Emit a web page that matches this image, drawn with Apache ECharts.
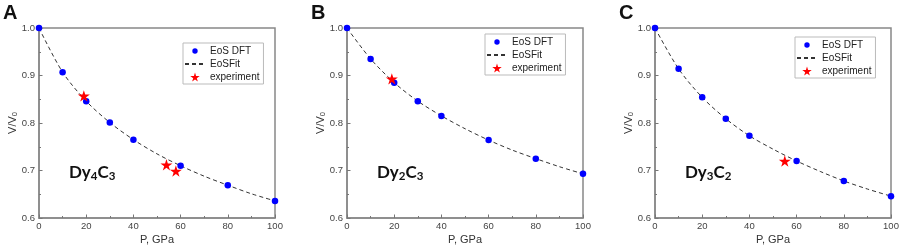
<!DOCTYPE html>
<html>
<head>
<meta charset="utf-8">
<script src="https://cdn.jsdelivr.net/npm/echarts@6/dist/echarts.min.js"></script>
<style>
  html, body { margin: 0; padding: 0; background: #fff; }
  #chart { width: 899px; height: 247px; }
</style>
</head>
<body>
<div id="chart"></div>
<script>
// DFT equation-of-state points (pressure in GPa, V/V0)
var dftP = [0, 10, 20, 30, 40, 60, 80, 100]
var dftA = [1.0, 0.907, 0.846, 0.801, 0.765, 0.710, 0.669, 0.636]
var dftB = [1.0, 0.935, 0.885, 0.846, 0.815, 0.764, 0.725, 0.693]
var dftC = [1.0, 0.914, 0.854, 0.809, 0.773, 0.720, 0.678, 0.646]

// EoSFit curve
var fitP = [0, 10, 20, 30, 40, 50, 60, 70, 80, 90, 100]
var fitA = [1.0, 0.907, 0.846, 0.801, 0.765, 0.735, 0.710, 0.688, 0.669, 0.651, 0.636]
var fitB = [1.0, 0.935, 0.885, 0.846, 0.815, 0.788, 0.764, 0.743, 0.725, 0.708, 0.693]
var fitC = [1.0, 0.914, 0.854, 0.809, 0.773, 0.745, 0.720, 0.698, 0.678, 0.661, 0.646]

// experiment
var expPA = [19, 54, 58]
var expVA = [0.857, 0.712, 0.699]
var expPB = [19]
var expVB = [0.893]
var expPC = [55]
var expVC = [0.720]

var xTicks = [0, 20, 40, 60, 80, 100]
var yTicks = [0.6, 0.7, 0.8, 0.9, 1.0]
var panelLetters = ['A', 'B', 'C']
var formulas = [['4', '3'], ['2', '3'], ['3', '2']]

var FONT = '"Liberation Sans", Arial, sans-serif'
var STAR = 'path://M50,0 L61,35 L98,35 L68,57 L79,91 L50,70 L21,91 L32,57 L2,35 L39,35 Z'
// small dot inside a 10x10 box, so the legend draws it smaller than the star
var SMALL_DOT = 'path://M0,0L0,0M10,10L10,10M8,5A3,3,0,1,1,2,5A3,3,0,1,1,8,5Z'

function pairs (xs, ys) {
  return xs.map(function (x, i) { return [x, ys[i]] })
}

var panels = [
  { left: 39, dft: dftA, fit: fitA, expP: expPA, expV: expVA, legend: [183, 43] },
  { left: 347, dft: dftB, fit: fitB, expP: expPB, expV: expVB, legend: [485, 34] },
  { left: 655, dft: dftC, fit: fitC, expP: expPC, expV: expVC, legend: [795, 37] }
]

var grids = [], xAxes = [], yAxes = [], series = [], legends = [], graphics = []

panels.forEach(function (p, i) {
  grids.push({
    left: p.left, top: 28, width: 236, height: 190, outerBoundsMode: 'none',
    show: true, borderColor: '#888', borderWidth: 1.5, backgroundColor: 'transparent'
  })
  xAxes.push({
    gridIndex: i, type: 'value', min: xTicks[0], max: xTicks[xTicks.length - 1], interval: 20,
    name: 'P, GPa', nameLocation: 'middle', nameGap: 16, nameMoveOverlap: false,
    nameTextStyle: { fontFamily: FONT, fontSize: 11, color: '#333' },
    axisLine: { lineStyle: { color: '#888', width: 1.5 } },
    axisTick: { inside: true, length: 3.5, lineStyle: { color: '#777' } },
    minorTick: { show: true, splitNumber: 2, length: 2, lineStyle: { color: '#777' } },
    axisLabel: { fontFamily: FONT, fontSize: 9.5, color: '#444', margin: 3 },
    splitLine: { show: false }
  })
  yAxes.push({
    gridIndex: i, type: 'value', min: yTicks[0], max: yTicks[yTicks.length - 1], interval: 0.1,
    name: '{a|V/V}{s|0}', nameLocation: 'middle', nameGap: 20, nameRotate: 90, nameMoveOverlap: false,
    nameTextStyle: {
      fontFamily: FONT, color: '#333',
      rich: {
        a: { fontFamily: FONT, fontSize: 11, color: '#333' },
        s: { fontFamily: FONT, fontSize: 7.5, color: '#333', verticalAlign: 'bottom', padding: [4, 0, 0, 0] }
      }
    },
    axisLine: { lineStyle: { color: '#888', width: 1.5 } },
    axisTick: { inside: true, length: 3.5, lineStyle: { color: '#777' } },
    minorTick: { show: true, splitNumber: 2, length: 2, lineStyle: { color: '#777' } },
    axisLabel: {
      fontFamily: FONT, fontSize: 9.5, color: '#444', margin: 4,
      formatter: function (v) { return v.toFixed(1) }
    },
    splitLine: { show: false }
  })

  series.push({
    name: 'EoSFit', type: 'line', xAxisIndex: i, yAxisIndex: i,
    data: pairs(fitP, p.fit), smooth: 0.3,
    symbol: 'none', showSymbol: false, z: 1,
    lineStyle: { color: '#333', width: 1, type: [4, 3] },
    itemStyle: { color: '#333' }
  })
  series.push({
    name: 'EoS DFT', type: 'scatter', xAxisIndex: i, yAxisIndex: i,
    data: pairs(dftP, p.dft), symbol: 'circle', symbolSize: 6.5, z: 2,
    itemStyle: { color: '#0000ff', opacity: 1 }
  })
  series.push({
    name: 'experiment', type: 'scatter', xAxisIndex: i, yAxisIndex: i,
    data: pairs(p.expP, p.expV), symbol: STAR, symbolSize: 12, symbolKeepAspect: true, z: 3,
    itemStyle: { color: '#ff0000', opacity: 1 }
  })

  legends.push({
    orient: 'vertical', left: p.legend[0], top: p.legend[1],
    data: [
      { name: 'EoS DFT', icon: SMALL_DOT },
      { name: 'EoSFit', itemStyle: { opacity: 0 } },
      { name: 'experiment', icon: STAR }
    ],
    selectedMode: false,
    backgroundColor: '#fff', borderColor: '#bbb', borderWidth: 1,
    padding: [3, 4, 2, 1], itemWidth: 20, itemHeight: 9, itemGap: 3,
    textStyle: { fontFamily: FONT, fontSize: 10, color: '#222' }
  })

  graphics.push({
    type: 'text', left: p.left - 36, top: 3,
    style: { text: panelLetters[i], font: 'bold 20px ' + FONT, fill: '#111' }
  })
  graphics.push({
    type: 'text', left: p.left + 30, top: 164,
    style: {
      text: '{b|Dy}{s|' + formulas[i][0] + '}{b|C}{s|' + formulas[i][1] + '}',
      rich: {
        b: { fontFamily: 'Lato, "Open Sans", sans-serif', fontWeight: 'bold', fontSize: 17, fill: '#111' },
        s: { fontFamily: 'Lato, "Open Sans", sans-serif', fontWeight: 'bold', fontSize: 11.5, fill: '#111', verticalAlign: 'bottom', padding: [8, 0, 0, 0] }
      }
    }
  })
})

var chart = echarts.init(document.getElementById('chart'), null, { renderer: 'canvas' })
chart.setOption({
  backgroundColor: '#fff',
  animation: false,
  grid: grids,
  xAxis: xAxes,
  yAxis: yAxes,
  legend: legends,
  series: series,
  graphic: graphics
})
</script>
</body>
</html>
